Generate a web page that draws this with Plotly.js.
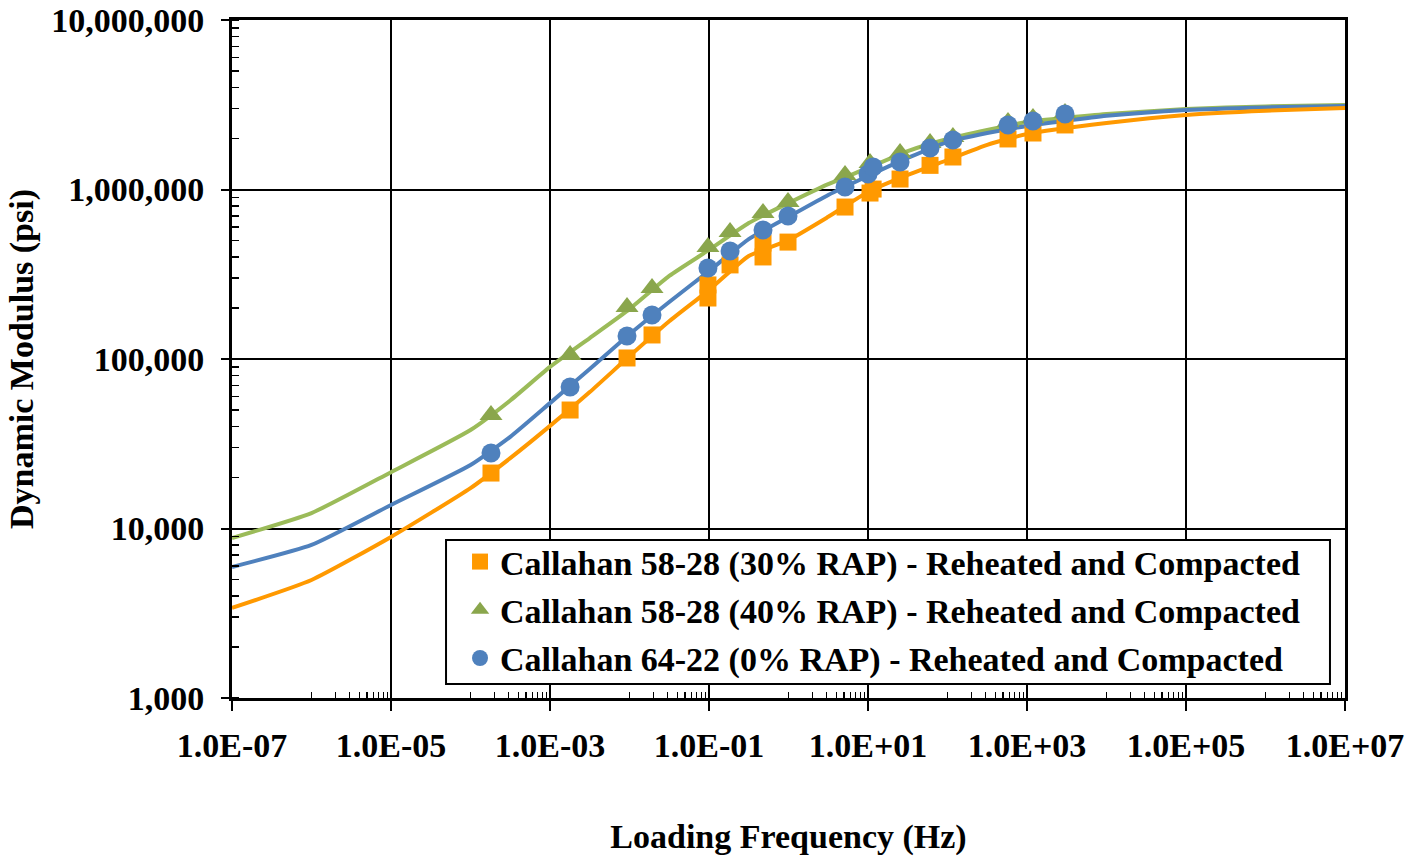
<!DOCTYPE html>
<html>
<head>
<meta charset="utf-8">
<script src="https://cdn.plot.ly/plotly-3.0.1.min.js"></script>
<style>
  html, body { margin: 0; padding: 0; background: #fff; }
  #chart { width: 1411px; height: 856px; }
</style>
</head>
<body>
<div id="chart"></div>
<script>
// ---------- Data ----------
const seriesNames = [
  "Callahan 58-28 (30% RAP) - Reheated and Compacted",
  "Callahan 58-28 (40% RAP) - Reheated and Compacted",
  "Callahan 64-22 (0% RAP) - Reheated and Compacted"
];

// Measured points (loading frequency in Hz, dynamic modulus in psi)
const freqOrange = [1.81e-4, 1.79e-3, 9.31e-3, 0.0192, 0.097, 0.097, 0.184, 0.478, 0.478, 0.986, 5.14, 10.6, 11.6, 25.3, 60.3, 117, 577, 1189, 3006];
const modOrange  = [21240, 50000, 101400, 138600, 229000, 273500, 359000, 400000, 483000, 489500, 788000, 953000, 1006000, 1153000, 1388000, 1555000, 1987000, 2154000, 2403000];

const freqGreen = [1.81e-4, 1.79e-3, 9.31e-3, 0.0192, 0.097, 0.184, 0.478, 0.986, 5.14, 10.6, 25.3, 60.3, 117, 577, 1189, 3006];
const modGreen  = [46750, 105700, 202600, 262400, 458000, 561000, 726000, 843000, 1218000, 1433000, 1641000, 1878000, 2042000, 2500000, 2640000, 2825000];

const freqBlue = [1.81e-4, 1.79e-3, 9.31e-3, 0.0192, 0.097, 0.184, 0.478, 0.986, 5.14, 10.0, 11.6, 25.3, 60.3, 117, 577, 1189, 3006];
const modBlue  = [27860, 68400, 136800, 182000, 344000, 433800, 577000, 698000, 1035000, 1233000, 1358000, 1453000, 1758000, 1960000, 2403000, 2536000, 2786000];

// Master-curve (fitted) lines
const fitFreq   = [1e-7, 1e-6, 1e-5, 1e-4, 3.16e-4, 1e-3, 3.16e-3, 1e-2, 3.16e-2, 0.1, 0.316, 1, 3.16, 10, 31.6, 100, 316, 1e3, 1e4, 1e5, 1e6, 1e7];
const fitOrange = [3400, 4970, 8920, 17300, 26000, 40300, 63800, 104000, 167000, 255000, 405000, 503000, 690000, 966000, 1218000, 1493000, 1833000, 2123000, 2466000, 2754000, 2918000, 3026000];
const fitGreen  = [8790, 12330, 21500, 38100, 56900, 89800, 133000, 197000, 309000, 440000, 634000, 832000, 1076000, 1340000, 1686000, 1987000, 2244000, 2500000, 2786000, 2985000, 3090000, 3155000];
const fitBlue   = [5930, 8000, 13770, 23700, 34700, 54900, 87300, 140000, 217000, 330000, 510000, 690000, 929000, 1202000, 1535000, 1905000, 2153000, 2370000, 2720000, 2947000, 3050000, 3110000];

// Axis ticks
const xTickVals = [1e-7, 1e-5, 1e-3, 1e-1, 1e1, 1e3, 1e5, 1e7];
const xTickText = ["1.0E-07", "1.0E-05", "1.0E-03", "1.0E-01", "1.0E+01", "1.0E+03", "1.0E+05", "1.0E+07"];
const yTickVals = [1e3, 1e4, 1e5, 1e6, 1e7];
const yTickText = ["1,000", "10,000", "100,000", "1,000,000", "10,000,000"];

// ---------- Styles ----------
const ORANGE = "#FF9900";
const GREEN_LINE = "#9BBB59";
const GREEN_MARK = "#8AA64C";
const BLUE = "#4F81BD";
const FONT = "Liberation Serif, 'Times New Roman', serif";
const FS = 34;

// Excel-like minor ticks on the 2-decade x axis: 1..9 x 10^(major+1)
const xMinor = [];
for (let i = 0; i < xTickVals.length - 1; i++) {
  for (let k = 1; k <= 9; k++) xMinor.push(k * xTickVals[i] * 10);
}

const lineTrace = (y, color) => ({
  x: fitFreq, y: y, type: "scatter", mode: "lines",
  line: { color: color, width: 4, shape: "spline", smoothing: 0.5 },
  showlegend: false, hoverinfo: "skip"
});

const traces = [
  lineTrace(fitGreen, GREEN_LINE),
  lineTrace(fitBlue, BLUE),
  lineTrace(fitOrange, ORANGE),
  {
    x: freqOrange, y: modOrange, type: "scatter", mode: "markers",
    name: seriesNames[0], legendgroup: "a",
    marker: { symbol: "square", size: 17, color: ORANGE, line: { width: 0 } }
  },
  {
    x: freqGreen, y: modGreen, type: "scatter", mode: "markers",
    name: seriesNames[1], legendgroup: "b",
    marker: { symbol: "triangle-up", size: 20, color: GREEN_MARK, line: { width: 0 } }
  },
  {
    x: freqBlue, y: modBlue, type: "scatter", mode: "markers",
    name: seriesNames[2], legendgroup: "c",
    marker: { symbol: "circle", size: 19, color: BLUE, line: { width: 0 } }
  }
];

const layout = {
  width: 1411, height: 856,
  margin: { l: 232, r: 66, t: 20, b: 158 },
  paper_bgcolor: "#fff", plot_bgcolor: "#fff",
  font: { family: FONT, size: FS, color: "#000", weight: "bold" },
  showlegend: true,
  // legend frame (white, opaque, black border) drawn as a shape behind the legend entries
  shapes: [{
    type: "rect", xref: "x domain", yref: "y domain",
    x0: 0.1923, x1: 0.9865, y0: 0.0206, y1: 0.2330,
    fillcolor: "#fff", line: { color: "#000", width: 2 }, layer: "above"
  }],
  legend: {
    x: 0.1923, y: 0.2434, xanchor: "left", yanchor: "top",
    bgcolor: "rgba(0,0,0,0)", borderwidth: 0,
    font: { family: FONT, size: FS, color: "#000", weight: "bold" },
    traceorder: "grouped", tracegroupgap: 1, indentation: 14
  },
  xaxis: {
    type: "log", range: [-7, 7],
    tickmode: "array", tickvals: xTickVals, ticktext: xTickText,
    ticks: "outside", ticklen: 10, tickwidth: 2, tickcolor: "#000",
    ticklabelstandoff: 5,
    tickfont: { family: FONT, size: FS, color: "#000", weight: "bold" },
    showgrid: true, gridcolor: "#000", gridwidth: 2,
    showline: true, linecolor: "#000", linewidth: 3, mirror: true,
    zeroline: false,
    minor: { tickmode: "array", tickvals: xMinor, ticks: "inside", ticklen: 6, tickwidth: 1.5, tickcolor: "#000", showgrid: false },
    title: { text: "Loading Frequency (Hz)", standoff: 64, font: { family: FONT, size: FS, color: "#000", weight: "bold" } },
    automargin: false
  },
  yaxis: {
    type: "log", range: [3, 7],
    tickmode: "array", tickvals: yTickVals, ticktext: yTickText,
    ticks: "outside", ticklen: 8, tickwidth: 2, tickcolor: "#000",
    ticklabelstandoff: 10,
    tickfont: { family: FONT, size: FS, color: "#000", weight: "bold" },
    showgrid: true, gridcolor: "#000", gridwidth: 2,
    showline: true, linecolor: "#000", linewidth: 3, mirror: true,
    zeroline: false,
    minor: { dtick: "D1", ticks: "inside", ticklen: 7, tickwidth: 1.5, tickcolor: "#000", showgrid: false },
    title: { text: "Dynamic Modulus (psi)", standoff: 8, font: { family: FONT, size: FS, color: "#000", weight: "bold" } },
    automargin: false
  }
};

Plotly.newPlot("chart", traces, layout, { displayModeBar: false, staticPlot: true });
</script>
</body>
</html>
